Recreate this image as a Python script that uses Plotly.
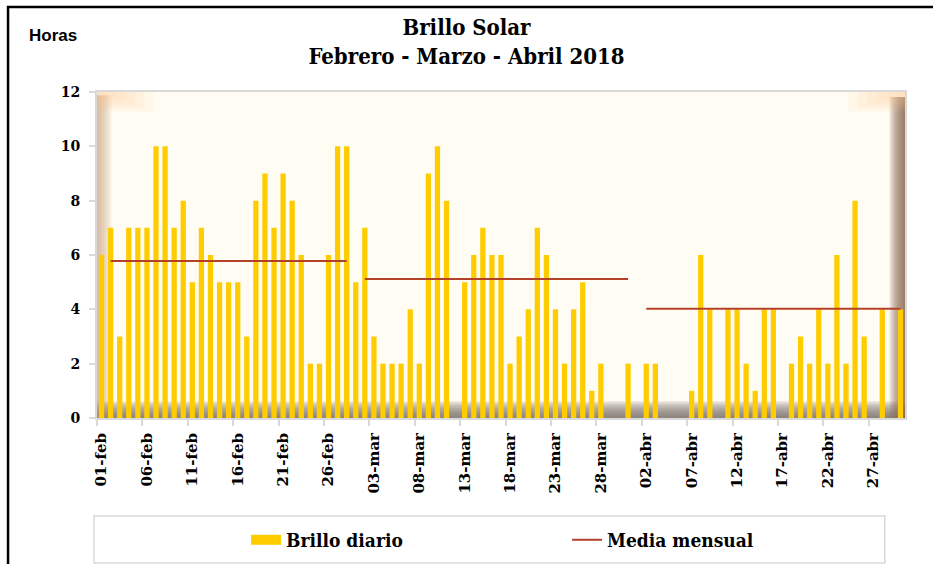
import plotly.graph_objects as go
import datetime as dt

# ---------------- data ----------------
feb = [6, 7, 3, 7, 7, 7, 10, 10, 7, 8, 5, 7, 6, 5, 5, 5, 3, 8, 9, 7, 9, 8, 6, 2, 2, 6, 10, 10]
mar = [5, 7, 3, 2, 2, 2, 4, 2, 9, 10, 8, 0, 5, 6, 7, 6, 6, 2, 3, 4, 7, 6, 4, 2, 4, 5, 1, 2, 0, 0, 2]
abr = [0, 2, 2, 0, 0, 0, 1, 6, 4, 0, 4, 4, 2, 1, 4, 4, 0, 2, 3, 2, 4, 2, 6, 2, 8, 3, 0, 4, 0, 4]
media_mensual = [5.78, 5.12, 4.02]   # Feb, Mar, Abr
meses_abrev = ["feb", "mar", "abr"]

brillo = feb + mar + abr
start = dt.date(2018, 2, 1)
fechas = [start + dt.timedelta(days=i) for i in range(len(brillo))]
etiquetas = [f"{d.day:02d}-{meses_abrev[d.month - 2]}" for d in fechas]
idx = list(range(len(brillo)))

media_diaria = [None if d.day == 1 else media_mensual[d.month - 2] for d in fechas]

GOLD = "#FFCC00"
RED = "#B5402A"
SERIF = "DejaVu Serif"
COND = "DejaVu Serif Condensed, DejaVu Serif"

fig = go.Figure()
fig.add_trace(go.Bar(x=idx, y=brillo, marker=dict(color=GOLD, line=dict(width=0)),
                     width=0.58, showlegend=False, name="Brillo diario"))
# legend proxy for the bars (wide swatch)
fig.add_trace(go.Scatter(x=[None], y=[None], mode="lines", line=dict(color=GOLD, width=10),
                         name="Brillo diario"))
fig.add_trace(go.Scatter(x=idx, y=media_diaria, mode="lines", line=dict(color=RED, width=2),
                         connectgaps=False, name="Media mensual"))

shapes = []
n = 8
# bottom floor gradient
for k in range(n):
    shapes.append(dict(type="rect", xref="paper", yref="y", layer="below",
                       x0=0, x1=1, y0=0, y1=0.62 * (1 - k / n),
                       fillcolor="#6f665e", opacity=0.17, line=dict(width=0)))
# right wall gradient
for k in range(n):
    shapes.append(dict(type="rect", xref="paper", yref="paper", layer="below",
                       x0=0.981 + 0.019 * k / n, x1=1, y0=0, y1=0.985,
                       fillcolor="#85664d", opacity=0.18, line=dict(width=0)))
# left wall gradient
for k in range(n):
    shapes.append(dict(type="rect", xref="paper", yref="paper", layer="below",
                       x0=0, x1=0.018 * (1 - k / n), y0=0, y1=0.99,
                       fillcolor="#c89470", opacity=0.10, line=dict(width=0)))
# top-left / top-right peach highlights
for k in range(6):
    shapes.append(dict(type="rect", xref="paper", yref="paper", layer="below",
                       x0=0, x1=0.07 * (1 - k / 6), y0=1 - 0.06 * (1 - k / 6), y1=1,
                       fillcolor="#ffc98a", opacity=0.10, line=dict(width=0)))
    shapes.append(dict(type="rect", xref="paper", yref="paper", layer="below",
                       x0=1 - 0.07 * (1 - k / 6), x1=1, y0=1 - 0.06 * (1 - k / 6), y1=1,
                       fillcolor="#ffc98a", opacity=0.10, line=dict(width=0)))
# legend box
shapes.append(dict(type="rect", xref="paper", yref="paper", x0=-0.0037, x1=0.975,
                   y0=-0.4448, y1=-0.3006, line=dict(color="#d9d9d9", width=1.5),
                   fillcolor="rgba(0,0,0,0)"))
# outer chart border
shapes.append(dict(type="rect", xref="paper", yref="paper", x0=-0.1101, x1=1.06,
                   y0=-0.55, y1=1.2607, line=dict(color="black", width=2.5),
                   fillcolor="rgba(0,0,0,0)"))

tick_i = idx[::5]
fig.update_layout(
    width=933, height=564,
    margin=dict(l=97, r=28, t=92, b=146, autoexpand=False),
    paper_bgcolor="white", plot_bgcolor="#FFFDF3",
    bargap=0.42,
    title=dict(text="Brillo Solar<br>Febrero - Marzo - Abril 2018",
               x=0.5, xanchor="center", xref="container",
               y=1 - 35 / 564, yanchor="middle", yref="container",
               font=dict(family=COND, size=22, color="black", weight="bold")),
    xaxis=dict(range=[-0.5, len(brillo) - 0.5], tickmode="array", automargin=False,
               tickvals=tick_i, ticktext=[etiquetas[i] for i in tick_i],
               tickangle=-90, ticks="", showgrid=False, zeroline=False,
               showline=True, linecolor="#d9d9d9", linewidth=2, mirror=True,
               tickfont=dict(family=SERIF, size=15, color="black", weight="bold"),
               ticklabelstandoff=7,
               minor=dict(ticks="outside", tick0=-0.5, dtick=5, ticklen=6,
                          tickcolor="#d9d9d9", tickwidth=2, showgrid=False)),
    yaxis=dict(range=[0, 12], dtick=2, ticks="outside", ticklen=6, tickcolor="#d9d9d9",
               tickwidth=2, showgrid=False, zeroline=False, automargin=False,
               showline=True, linecolor="#d9d9d9", linewidth=2, mirror=True,
               tickfont=dict(family=SERIF, size=14, color="black", weight="bold"),
               ticklabelstandoff=6),
    legend=dict(orientation="h", x=0.1845, xanchor="left", y=-0.374, yanchor="middle",
                entrywidth=276, entrywidthmode="pixels", bgcolor="rgba(0,0,0,0)",
                font=dict(family=COND, size=19, color="black", weight="bold")),
    shapes=shapes,
    annotations=[dict(text="Horas", xref="paper", yref="paper", x=-0.0545, y=1.1748,
                      xanchor="center", yanchor="middle", showarrow=False,
                      font=dict(family="Liberation Sans", size=17, color="black", weight="bold"))],
)

# pin the page to exactly the figure size (no default body margin, no overflow)
page_js = (
    "document.documentElement.style.margin='0';"
    "document.documentElement.style.overflow='hidden';"
    "document.body.style.margin='0';"
    "document.body.style.overflow='hidden';"
)
fig.write_html("out.html", config={"displayModeBar": False}, post_script=page_js)
